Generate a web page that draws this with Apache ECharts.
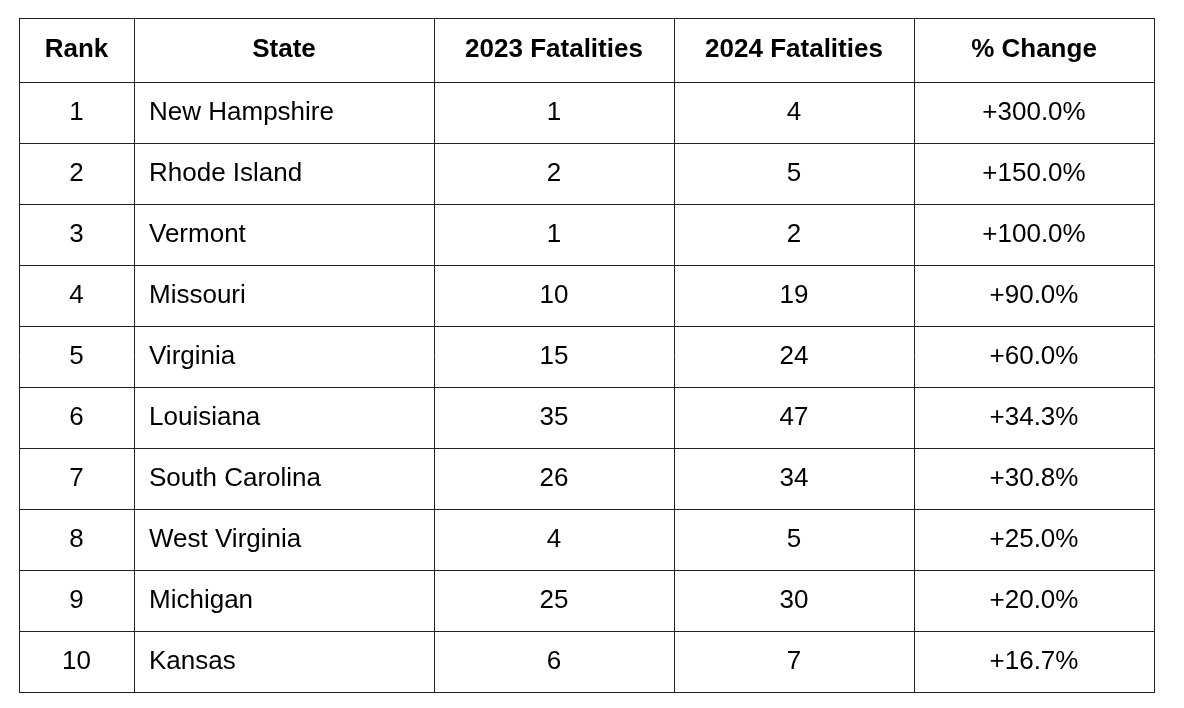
<!DOCTYPE html>
<html><head><meta charset="utf-8">
<script src="https://cdn.jsdelivr.net/npm/echarts@6/dist/echarts.min.js"></script>
<style>html,body{margin:0;padding:0;background:#fff}#c{width:1184px;height:708px}</style>
</head><body><div id="c"></div>
<script>
const headers = ["Rank","State","2023 Fatalities","2024 Fatalities","% Change"];
const ranks = [1,2,3,4,5,6,7,8,9,10];
const states = ["New Hampshire","Rhode Island","Vermont","Missouri","Virginia","Louisiana","South Carolina","West Virginia","Michigan","Kansas"];
const fat2023 = [1,2,1,10,15,35,26,4,25,6];
const fat2024 = [4,5,2,19,24,47,34,5,30,7];
const pctChange = ["+300.0%","+150.0%","+100.0%","+90.0%","+60.0%","+34.3%","+30.8%","+25.0%","+20.0%","+16.7%"];

(function(){
const colX = [19,134,434,674,914,1154];
const tableTop = 18, headH = 64, rowH = 61;
const font = '"Liberation Sans", Arial, Helvetica, sans-serif';
const els = [];
const nRows = ranks.length;
const bottom = tableTop + headH + rowH*nRows;
const ys = [tableTop, tableTop+headH];
for (let i=1;i<=nRows;i++) ys.push(tableTop+headH+rowH*i);
ys.forEach(y=>els.push({type:'line',shape:{x1:colX[0],y1:y+0.5,x2:colX[5]+1,y2:y+0.5},style:{stroke:'#222',lineWidth:1}}));
colX.forEach(x=>els.push({type:'line',shape:{x1:x+0.5,y1:tableTop,x2:x+0.5,y2:bottom+1},style:{stroke:'#222',lineWidth:1}}));
function txt(s,col,yc,bold,left){
  const x = left ? colX[col]+15 : (colX[col]+colX[col+1])/2;
  els.push({type:'text',x:x,y:yc,style:{text:String(s),fill:'#000',font:(bold?'bold ':'')+'26px '+font,align:left?'left':'center',verticalAlign:'middle'}});
}
headers.forEach((h,i)=>txt(h,i,tableTop+headH/2,true,false));
for (let r=0;r<nRows;r++){
  const yc = tableTop+headH+rowH*r+rowH/2;
  txt(ranks[r],0,yc,false,false);
  txt(states[r],1,yc,false,true);
  txt(fat2023[r],2,yc,false,false);
  txt(fat2024[r],3,yc,false,false);
  txt(pctChange[r],4,yc,false,false);
}
const chart = echarts.init(document.getElementById('c'));
chart.setOption({backgroundColor:'#fff',animation:false,graphic:{elements:els}});
})();
</script></body></html>
